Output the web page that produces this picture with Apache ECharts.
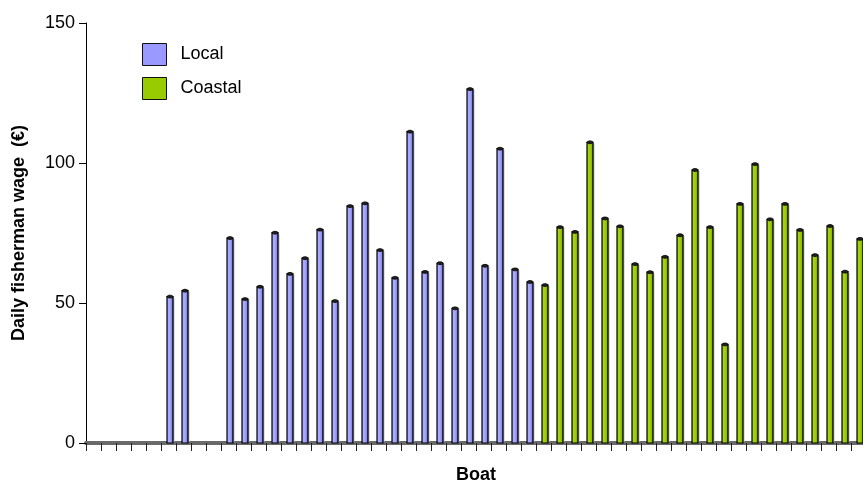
<!DOCTYPE html>
<html>
<head>
<meta charset="utf-8">
<script src="https://cdn.jsdelivr.net/npm/echarts@6/dist/echarts.min.js"></script>
<style>
html,body{margin:0;padding:0;background:#fff;}
#chart{width:863px;height:480px;}
</style>
</head>
<body>
<div id="chart"></div>
<script>
// Boats (52 categories)
const boats = Array.from({length: 52}, (_, i) => 'Boat ' + (i + 1));
// Daily fisherman wage (€) — Local boats (null = no bar)
const localWage = [null, null, null, null, null, 52.3, 54.4, null, null,
  73.2, 51.4, 55.8, 75.1, 60.4, 66.0, 76.2, 50.7, 84.6, 85.6, 68.9, 59.0,
  111.2, 61.1, 64.2, 48.1, 126.4, 63.3, 105.1, 62.0, 57.5,
  null, null, null, null, null, null, null, null, null, null, null,
  null, null, null, null, null, null, null, null, null, null, null];
// Daily fisherman wage (€) — Coastal boats
const coastalWage = [null, null, null, null, null, null, null, null, null, null,
  null, null, null, null, null, null, null, null, null, null,
  null, null, null, null, null, null, null, null, null, null,
  56.4, 77.1, 75.4, 107.4, 80.2, 77.4, 63.9, 61.0, 66.5, 74.2, 97.5,
  77.1, 35.2, 85.4, 99.6, 79.9, 85.4, 76.1, 67.1, 77.5, 61.2, 72.9];
const yTicks = [0, 50, 100, 150];

const FONT = 'Liberation Sans, Arial, sans-serif';

function toPairs(arr) {
  const out = [];
  arr.forEach((v, i) => { if (v != null) out.push([i, v]); });
  return out;
}

function makeRender(light, mid, dark) {
  return function (params, api) {
    const x = api.value(0), v = api.value(1);
    const top = api.coord([x, v]);
    const base = api.coord([x, 0]);
    const w = 6;
    const cx = top[0] + 1.5;
    const left = cx - w / 2;
    const grad = new echarts.graphic.LinearGradient(0, 0, 1, 0, [
      {offset: 0, color: mid},
      {offset: 0.35, color: light},
      {offset: 0.7, color: mid},
      {offset: 1, color: dark}
    ]);
    return {
      type: 'group',
      children: [
        { type: 'rect', shape: {x: left + w, y: top[1] + 1, width: 1.5, height: base[1] - top[1] - 2},
          style: {fill: '#bdbdbd'} },
        { type: 'rect', shape: {x: left, y: top[1], width: w, height: base[1] - top[1]},
          style: {fill: grad, stroke: '#000', lineWidth: 1.2} },
        { type: 'ellipse', shape: {cx: cx, cy: top[1], rx: w / 2, ry: 1.4},
          style: {fill: '#222', stroke: '#000', lineWidth: 0.8} }
      ]
    };
  };
}

const chart = echarts.init(document.getElementById('chart'));
chart.setOption({
  animation: false,
  backgroundColor: '#fff',
  textStyle: {fontFamily: FONT},
  grid: {left: 86, top: 23, width: 780, height: 420, containLabel: false, outerBoundsMode: 'none'},
  legend: {
    orient: 'vertical',
    left: 137, top: 38,
    itemWidth: 24, itemHeight: 22, itemGap: 11,
    textStyle: {fontFamily: FONT, fontSize: 18, color: '#000', padding: [0, 0, 0, 9]},
    data: [
      {name: 'Local', icon: 'rect', itemStyle: {color: '#9999ff', borderColor: '#111', borderWidth: 1}},
      {name: 'Coastal', icon: 'rect', itemStyle: {color: '#99cc00', borderColor: '#111', borderWidth: 1}}
    ]
  },
  xAxis: {
    type: 'category',
    data: boats,
    boundaryGap: true,
    name: 'Boat',
    nameLocation: 'middle',
    nameGap: 23,
    nameTextStyle: {fontFamily: FONT, fontSize: 18, fontWeight: 'bold', color: '#000'},
    axisLine: {show: true, lineStyle: {color: '#6a6a6a', width: 4}},
    axisTick: {show: true, interval: 0, length: 8, lineStyle: {color: '#222', width: 1}},
    axisLabel: {show: false},
    splitLine: {show: false}
  },
  yAxis: {
    type: 'value',
    min: yTicks[0], max: yTicks[yTicks.length - 1], interval: 50,
    name: 'Daily fisherman wage  (€)',
    nameLocation: 'middle',
    nameGap: 58,
    nameRotate: 90,
    nameTextStyle: {fontFamily: FONT, fontSize: 18, fontWeight: 'bold', color: '#000'},
    axisLine: {show: true, lineStyle: {color: '#000', width: 1}},
    axisTick: {show: true, length: 7, lineStyle: {color: '#000'}},
    axisLabel: {fontFamily: FONT, fontSize: 18, color: '#000', margin: 11},
    splitLine: {show: false}
  },
  series: [
    {
      name: 'Local', type: 'custom',
      renderItem: makeRender('#b0b0ff', '#9090f5', '#30305e'),
      itemStyle: {color: '#9999ff'},
      encode: {x: 0, y: 1},
      data: toPairs(localWage),
      z: 3
    },
    {
      name: 'Coastal', type: 'custom',
      renderItem: makeRender('#a6d614', '#90c000', '#364a00'),
      itemStyle: {color: '#99cc00'},
      encode: {x: 0, y: 1},
      data: toPairs(coastalWage),
      z: 3
    }
  ]
});
</script>
</body>
</html>
